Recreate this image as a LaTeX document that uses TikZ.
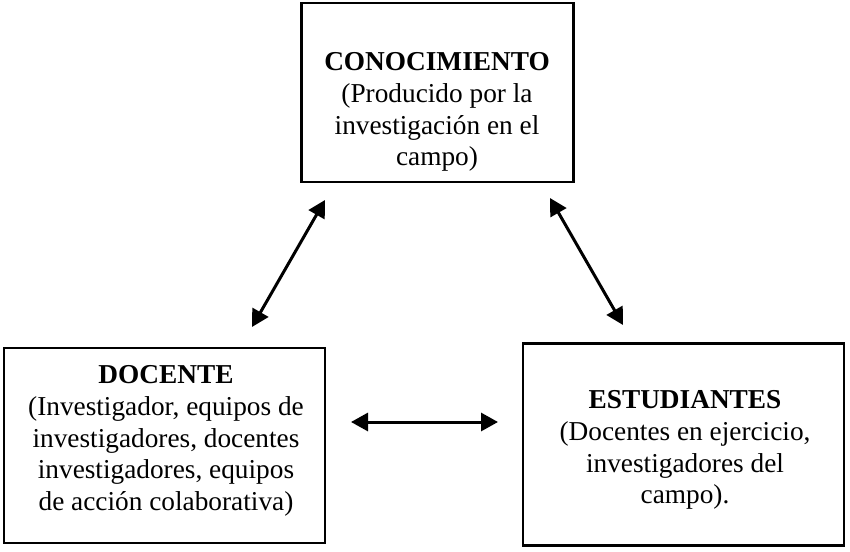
\documentclass[tikz,border=0pt]{standalone}
\usepackage{fontspec}
\setmainfont{Liberation Serif}
\usetikzlibrary{arrows.meta}
\begin{document}
\begin{tikzpicture}[x=1pt,y=-1pt,
  boxstyle/.style={draw=black, line width=2.5pt, rectangle, inner sep=0pt},
  txtstyle/.style={align=center, inner sep=0pt, font=\fontsize{27.3}{31.8}\selectfont},
  link/.style={line width=3pt, {Triangle[length=17pt,width=18pt]}-{Triangle[length=17pt,width=18pt]}}]
\useasboundingbox (0,0) rectangle (850,551);
% boxes
\node[boxstyle, minimum width=272pt, minimum height=179pt] (conoc) at (437.5,92.5) {};
\node[boxstyle, minimum width=321pt, minimum height=195pt] (docente) at (164.5,445.5) {};
\node[boxstyle, minimum width=321pt, minimum height=202pt] (estud) at (683.5,444.5) {};
% texts
\node[txtstyle] (conoctxt) at (437,112) {\textbf{CONOCIMIENTO}\\(Producido por la\\investigación en el\\campo)};
\node[txtstyle] (docentetxt) at (166,441) {\textbf{DOCENTE}\\(Investigador, equipos de\\investigadores, docentes\\investigadores, equipos\\de acción colaborativa)};
\node[txtstyle] (estudtxt) at (685,450) {\textbf{ESTUDIANTES}\\(Docentes en ejercicio,\\investigadores del\\campo).};
% arrow endpoints
\coordinate (a1) at (325,200);
\coordinate (a2) at (252,327);
\coordinate (b1) at (550,198);
\coordinate (b2) at (623,325);
\coordinate (c1) at (351,422);
\coordinate (c2) at (498,422);
\draw[link] (a1) -- (a2);
\draw[link] (b1) -- (b2);
\draw[link] (c1) -- (c2);
\end{tikzpicture}
\end{document}
